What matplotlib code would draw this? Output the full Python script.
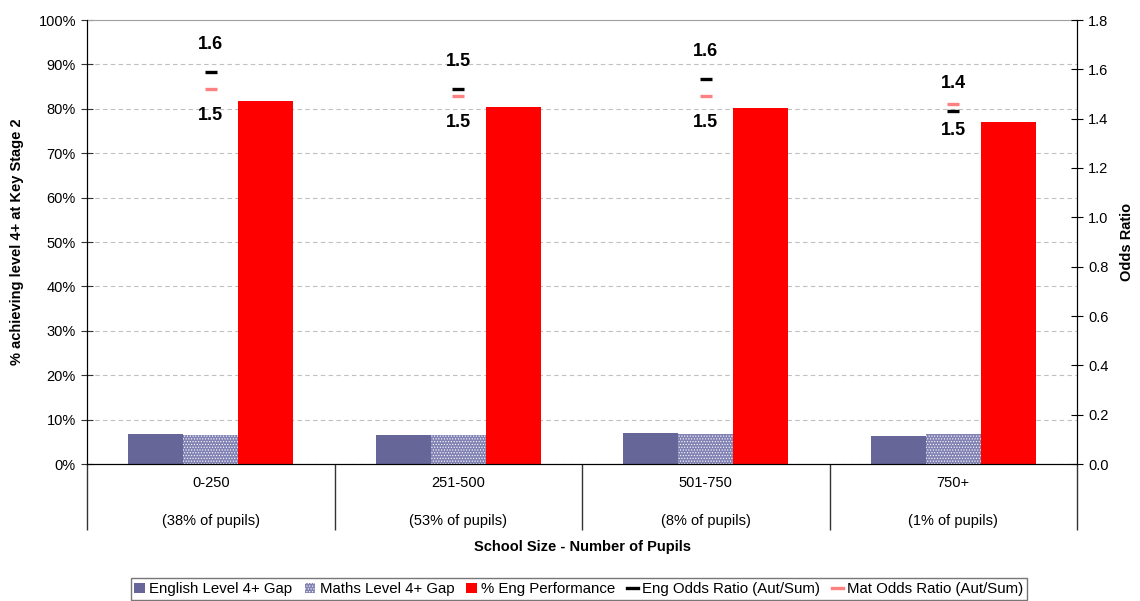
import numpy as np
import matplotlib.pyplot as plt
from matplotlib.patches import Patch
from matplotlib.lines import Line2D

plt.rcParams['font.family'] = ['Liberation Sans', 'DejaVu Sans']
plt.rcParams['hatch.linewidth'] = 0.5

# data
sizes = ['0-250', '251-500', '501-750', '750+']
shares = ['(38% of pupils)', '(53% of pupils)', '(8% of pupils)', '(1% of pupils)']
eng_gap = [6.8, 6.5, 7.0, 6.2]
mat_gap = [6.5, 6.5, 6.8, 6.8]
eng_perf = [81.8, 80.4, 80.2, 77.0]
eng_or = [1.59, 1.52, 1.56, 1.43]
mat_or = [1.52, 1.49, 1.49, 1.46]

x = np.arange(len(sizes))
w = 0.222
maths_col = '#8282b4'

fig = plt.figure(figsize=(11.4, 6.01), dpi=100)
ax = fig.add_axes([87/1140, 137/601, 990/1140, 444/601])
ax2 = ax.twinx()

ax.bar(x - w, eng_gap, w, color='#666699', linewidth=0)
ax.bar(x, mat_gap, w, facecolor=maths_col, edgecolor='white', hatch='......', linewidth=0)
ax.bar(x + w, eng_perf, w, color='#ff0000', linewidth=0)

ax.set_xlim(-0.5, 3.5)
ax.set_ylim(0, 100)
ax.set_yticks(np.arange(0, 101, 10))
ax.set_yticklabels([f'{v}%' for v in range(0, 101, 10)])
ax.yaxis.grid(True, linestyle=(0, (4, 3)), color='#c0c0c0', linewidth=0.8)
ax.set_axisbelow(True)
ax.set_xticks([])
ax.spines['top'].set_color('#a0a0a0')
ax.tick_params(axis='y', direction='inout', length=9, labelsize=10.5, colors='#333333', labelcolor='black')

ax2.plot(x, eng_or, linestyle='none', marker='_', markersize=9, mew=2.4, color='black')
ax2.plot(x, mat_or, linestyle='none', marker='_', markersize=9, mew=2.4, color='#ff8080')
ax2.set_ylim(0, 1.8)
ax2.set_yticks(np.arange(0, 1.81, 0.2))
ax2.set_yticklabels([f'{v:.1f}' for v in np.arange(0, 1.81, 0.2)])
ax2.tick_params(axis='y', direction='inout', length=9, labelsize=10.5)
ax2.spines['top'].set_visible(False)

for i in range(len(sizes)):
    ax2.annotate(f'{eng_or[i]:.1f}', (x[i], eng_or[i]), xytext=(0, 20), textcoords='offset points',
                 ha='center', va='center', fontsize=13, fontweight='bold')
    ax2.annotate(f'{mat_or[i]:.1f}', (x[i], mat_or[i]), xytext=(0, -19), textcoords='offset points',
                 ha='center', va='center', fontsize=13, fontweight='bold')
    ax.annotate(sizes[i], (x[i], 0), xycoords=('data', 'axes fraction'), xytext=(0, -14),
                textcoords='offset points', ha='center', va='center', fontsize=10.5)
    ax.annotate(shares[i], (x[i], 0), xycoords=('data', 'axes fraction'), xytext=(0, -41),
                textcoords='offset points', ha='center', va='center', fontsize=10.5)

# category separators below the axis
ax.vlines([-0.5, 0.5, 1.5, 2.5, 3.5], -66/444, 0, transform=ax.get_xaxis_transform(),
          colors='#333333', linewidth=1, clip_on=False)

fig.text(583/1140, 1 - 547/601, 'School Size - Number of Pupils', ha='center', va='center',
         fontsize=10.5, fontweight='bold')
fig.text(17/1140, 1 - 242/601, '% achieving level 4+ at Key Stage 2', rotation=90,
         ha='center', va='center', fontsize=10.5, fontweight='bold')
fig.text(1127/1140, 1 - 242/601, 'Odds Ratio', rotation=90,
         ha='center', va='center', fontsize=10.5, fontweight='bold')

handles = [
    Patch(facecolor='#666699'),
    Patch(facecolor=maths_col, edgecolor='white', hatch='......', linewidth=0),
    Patch(facecolor='#ff0000'),
    Line2D([], [], color='black', linewidth=2.4),
    Line2D([], [], color='#ff8080', linewidth=2.4),
]
labels = ['English Level 4+ Gap', 'Maths Level 4+ Gap', '% Eng Performance',
          'Eng Odds Ratio (Aut/Sum)', 'Mat Odds Ratio (Aut/Sum)']
leg = fig.legend(handles, labels, loc='center', bbox_to_anchor=(579/1140, 1 - 589/601), ncol=5,
                 fontsize=10.8, frameon=True, fancybox=False, handlelength=0.7, handleheight=0.7,
                 handletextpad=0.3, columnspacing=0.8, borderpad=0.25, borderaxespad=0)
leg.get_frame().set_edgecolor('#555555')
leg.get_frame().set_linewidth(1)

fig.savefig('out.png', dpi=100)
